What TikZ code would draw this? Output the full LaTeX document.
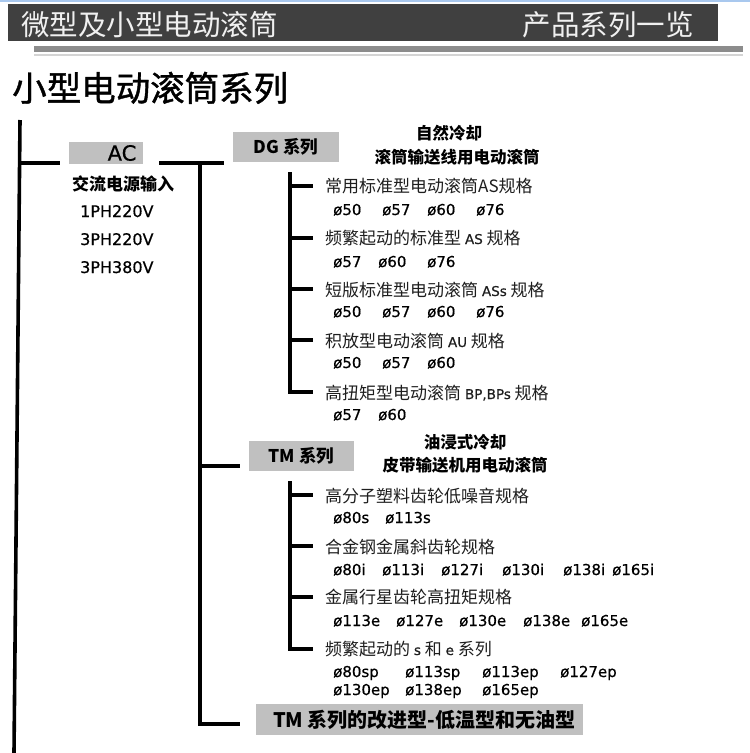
\documentclass[tikz,border=0pt]{standalone}
\usepackage{fontspec}
\setmainfont{DejaVu Sans}
\newfontfamily\cjk{Noto Sans CJK SC}
\newfontfamily\cjkmed{Noto Sans CJK SC}[FakeBold=1.2]
\newfontfamily\specfont{DejaVu Sans}[FakeBold=0.6]
\usetikzlibrary{calc}
\definecolor{hdrgray}{HTML}{404040}
\definecolor{hdrtext}{HTML}{F0F0F0}
\definecolor{bargray}{HTML}{8C8C8C}
\definecolor{barlight}{HTML}{D4D4D4}
\definecolor{topblue}{HTML}{A9C8EE}
\definecolor{boxgray}{HTML}{C0C0C0}
\definecolor{itemc}{HTML}{1E1E1E}
\newcommand{\lat}[1]{{\specfont\fontsize{13.5}{16}\selectfont #1}}
\tikzset{
  trunk/.style={line width=3.6pt, line join=miter, line cap=butt},
  graybox/.style={fill=boxgray, inner sep=0pt},
  item/.style={anchor=base west, inner sep=0pt, text=itemc, font=\cjk\fontsize{17}{20}\selectfont},
  spec/.style={anchor=base west, inner sep=0pt, font=\specfont\fontsize{15}{18}\selectfont},
  head/.style={anchor=base, inner sep=0pt, font=\cjk\bfseries\fontsize{16.5}{20}\selectfont},
  volt/.style={anchor=base west, inner sep=0pt, font=\specfont\fontsize{16}{19}\selectfont},
}
\begin{document}
\begin{tikzpicture}[x=1pt,y=-1pt]
\useasboundingbox (0,0) rectangle (750,753);
\fill[white] (0,0) rectangle (750,753);
% header
\fill[topblue] (0,0) rectangle (750,1.6);
\fill[hdrgray] (8,4) rectangle (718,41);
\node[anchor=base west, inner sep=0pt, text=hdrtext, font=\cjk\fontsize{28.5}{32}\selectfont] (h1) at (21,35) {微型及小型电动滚筒};
\node[anchor=base east, inner sep=0pt, text=hdrtext, font=\cjk\fontsize{28.5}{32}\selectfont] (h2) at (694,35) {产品系列一览};
\fill[bargray] (34,46) rectangle (743,52);
\fill[barlight] (34,54) rectangle (743,56);
% title
\node[anchor=base west, inner sep=0pt, font=\cjkmed\fontsize{34.5}{40}\selectfont] (title) at (12,101) {小型电动滚筒系列};

% level boxes
\node[graybox, minimum width=74pt, minimum height=22pt, font=\specfont\fontsize{21}{24}\selectfont] (ac) at (106,153) {\hspace*{32pt}AC};
\node[graybox, minimum width=106pt, minimum height=30pt, font=\cjk\bfseries\fontsize{17.5}{20}\selectfont] (dg) at (286,147) {DG 系列};
\node[graybox, minimum width=105pt, minimum height=30pt, font=\cjk\bfseries\fontsize{17.5}{20}\selectfont] (tm) at (301.5,456) {TM 系列};
\node[graybox, minimum width=327pt, minimum height=31pt] (imp) at (419.5,719.5) {};
\node[anchor=west, inner sep=0pt, font=\cjk\bfseries\fontsize{20}{24}\selectfont] (impt) at ([xshift=17pt]imp.west) {TM 系列的改进型-低温型和无油型};

% AC column
\node[anchor=base west, inner sep=0pt, font=\cjk\bfseries\fontsize{17}{20}\selectfont] (acin) at (72,190) {交流电源输入};
\node[volt] (v1) at (80,217) {1PH220V};
\node[volt] (v2) at (80,245) {3PH220V};
\node[volt] (v3) at (80,273) {3PH380V};

% headings
\node[head] (dgh1) at (449,139) {自然冷却};
\node[head] (dgh2) at (457,163) {滚筒输送线用电动滚筒};
\node[head] (tmh1) at (465,448) {油浸式冷却};
\node[head] (tmh2) at (465,471) {皮带输送机用电动滚筒};

% DG items
\node[item] (d1) at (325,192) {常用标准型电动滚筒AS规格};
\node[item] (d2) at (325,244) {频繁起动的标准型 \lat{AS} 规格};
\node[item] (d3) at (325,296) {短版标准型电动滚筒 \lat{ASs} 规格};
\node[item] (d4) at (325,347) {积放型电动滚筒 \lat{AU} 规格};
\node[item] (d5) at (325,399) {高扭矩型电动滚筒 \lat{BP,BPs} 规格};
\foreach \x/\t [count=\i] in {333/ø50, 382/ø57, 427/ø60, 476/ø76} \node[spec] (da\i) at (\x,215) {\t};
\foreach \x/\t [count=\i] in {333/ø57, 378/ø60, 427/ø76} \node[spec] (db\i) at (\x,267) {\t};
\foreach \x/\t [count=\i] in {333/ø50, 382/ø57, 427/ø60, 476/ø76} \node[spec] (dc\i) at (\x,317) {\t};
\foreach \x/\t [count=\i] in {333/ø50, 382/ø57, 427/ø60} \node[spec] (dd\i) at (\x,368) {\t};
\foreach \x/\t [count=\i] in {333/ø57, 378/ø60} \node[spec] (de\i) at (\x,420) {\t};

% TM items
\node[item] (t1) at (325,502) {高分子塑料齿轮低噪音规格};
\node[item] (t2) at (325,553) {合金钢金属斜齿轮规格};
\node[item] (t3) at (325,603) {金属行星齿轮高扭矩规格};
\node[item] (t4) at (325,655) {频繁起动的 \lat{s} 和 \lat{e} 系列};
\foreach \x/\t [count=\i] in {333/ø80s, 385/ø113s} \node[spec] (ta\i) at (\x,523) {\t};
\foreach \x/\t [count=\i] in {333/ø80i, 382/ø113i, 441/ø127i, 502/ø130i, 563/ø138i, 612/ø165i} \node[spec] (tb\i) at (\x,575) {\t};
\foreach \x/\t [count=\i] in {333/ø113e, 396/ø127e, 459/ø130e, 523/ø138e, 581/ø165e} \node[spec] (tc\i) at (\x,626) {\t};
\foreach \x/\t [count=\i] in {333/ø80sp, 405/ø113sp, 482/ø113ep, 560/ø127ep} \node[spec] (td\i) at (\x,677) {\t};
\foreach \x/\t [count=\i] in {333/ø130ep, 405/ø138ep, 482/ø165ep} \node[spec] (te\i) at (\x,695) {\t};

% trunk coordinates
\coordinate (L0) at (20,120);
\coordinate (L1) at (14,753);
\coordinate (Lac) at (19.3,163);
\coordinate (M0) at (200,163);
\coordinate (Mtm) at (200,466);
\coordinate (Mimp) at (200,724);
\coordinate (D0) at (290,172);
\coordinate (T0) at (290,481);

% main trunk
\draw[trunk] (L0) -- (L1);
\draw[trunk] (Lac) -- ([xshift=-9pt]ac.west |- Lac);
\draw[trunk] ([xshift=16pt]ac.east |- M0) -- ([xshift=-9pt]dg.west |- M0);
\draw[trunk] (M0) -- (Mimp) -- ([xshift=-16pt]imp.west |- Mimp);
\draw[trunk] (Mtm) -- ([xshift=-9pt]tm.west |- Mtm);

% DG subtree
\draw[trunk] (D0) -- (290,392) -- ([xshift=-12pt]d5.base west |- 0,392);
\foreach \n/\y in {d1/186, d2/238, d3/289, d4/340}
  \draw[trunk] (290,\y) -- ([xshift=-12pt]\n.base west |- 0,\y);

% TM subtree
\draw[trunk] (T0) -- (290,649) -- ([xshift=-12pt]t4.base west |- 0,649);
\foreach \n/\y in {t1/495, t2/546, t3/597}
  \draw[trunk] (290,\y) -- ([xshift=-12pt]\n.base west |- 0,\y);
\end{tikzpicture}
\end{document}
